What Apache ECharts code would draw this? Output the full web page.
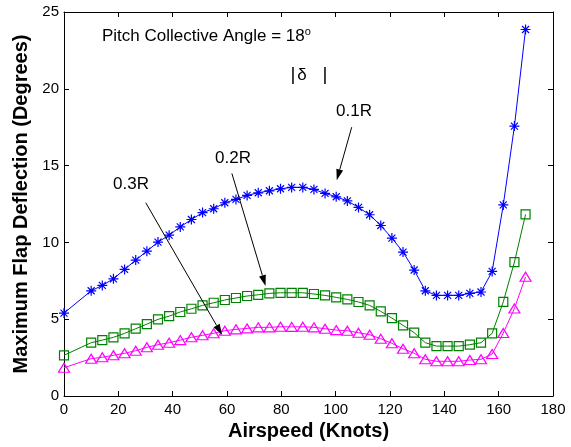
<!DOCTYPE html>
<html>
<head>
<meta charset="utf-8">
<script src="https://cdn.jsdelivr.net/npm/echarts@6/dist/echarts.min.js"></script>
<style>html,body{margin:0;padding:0;background:#fff}#c{width:571px;height:447px}</style>
</head>
<body>
<div id="c"></div>
<script>
var airspeed = [0, 10, 14.1, 18.2, 22.3, 26.4, 30.5, 34.6, 38.7, 42.8, 46.9, 51.0, 55.1, 59.2, 63.3, 67.4, 71.5, 75.6, 79.7, 83.8, 87.9, 92.0, 96.1, 100.2, 104.3, 108.4, 112.5, 116.6, 120.7, 124.8, 128.9, 133.0, 137.1, 141.2, 145.3, 149.4, 153.5, 157.6, 161.7, 165.8, 169.9];
var r01 = [5.4, 6.85, 7.2, 7.63, 8.24, 8.85, 9.43, 10.02, 10.47, 11.01, 11.49, 11.94, 12.19, 12.58, 12.80, 13.06, 13.23, 13.36, 13.49, 13.58, 13.58, 13.45, 13.19, 12.97, 12.7, 12.28, 11.8, 11.1, 10.28, 9.37, 8.2, 6.85, 6.55, 6.55, 6.55, 6.68, 6.77, 8.11, 12.44, 17.57, 23.86];
var r02 = [2.65, 3.47, 3.64, 3.82, 4.08, 4.38, 4.68, 4.99, 5.2, 5.47, 5.68, 5.9, 6.07, 6.25, 6.38, 6.51, 6.59, 6.68, 6.72, 6.72, 6.72, 6.64, 6.55, 6.42, 6.29, 6.12, 5.9, 5.51, 5.07, 4.6, 4.12, 3.47, 3.25, 3.25, 3.25, 3.34, 3.47, 4.08, 6.13, 8.72, 11.82];
var r03 = [1.84, 2.43, 2.52, 2.65, 2.78, 2.95, 3.17, 3.34, 3.47, 3.64, 3.82, 3.95, 4.08, 4.25, 4.34, 4.4, 4.47, 4.47, 4.51, 4.5, 4.51, 4.47, 4.38, 4.29, 4.25, 4.12, 3.99, 3.73, 3.43, 3.08, 2.78, 2.39, 2.26, 2.26, 2.26, 2.34, 2.39, 2.73, 4.1, 5.7, 7.76];
var xTicks = [0, 20, 40, 60, 80, 100, 120, 140, 160, 180];
var yTicks = [0, 5, 10, 15, 20, 25];
var arrowFrom = [[105.9, 17.5], [61.8, 14.49], [30.1, 12.58]];
var arrowTo = [[100.4, 14.05], [74.2, 7.16], [58.2, 3.97]];

function pairs(ys){ return airspeed.map(function(x,i){ return [x, ys[i]]; }); }

var FONT = 'Liberation Sans, Arial, sans-serif';
var chart = echarts.init(document.getElementById('c'));
var axisCommon = {
  axisLine: {show: true, onZero: false, lineStyle: {color: '#000', width: 1}},
  axisTick: {show: true, inside: true, length: 5, lineStyle: {color: '#000'}},
  splitLine: {show: false}
};
function mk(o){ return Object.assign({}, axisCommon, o); }

chart.setOption({
  animation: false,
  backgroundColor: '#fff',
  grid: {left: 64, right: 18, top: 12, bottom: 51},
  xAxis: [
    mk({type: 'value', position: 'bottom', min: xTicks[0], max: xTicks[xTicks.length-1], interval: 20,
      axisLabel: {color: '#000', fontSize: 15, fontFamily: FONT, margin: 6},
      name: 'Airspeed (Knots)', nameLocation: 'middle', nameGap: 23,
      nameTextStyle: {color: '#000', fontSize: 20, fontWeight: 'bold', fontFamily: FONT}}),
    mk({type: 'value', position: 'top', min: xTicks[0], max: xTicks[xTicks.length-1], interval: 20, axisLabel: {show: false}})
  ],
  yAxis: [
    mk({type: 'value', position: 'left', min: yTicks[0], max: yTicks[yTicks.length-1], interval: 5,
      axisLabel: {color: '#000', fontSize: 15, fontFamily: FONT, margin: 5},
      name: 'Maximum Flap Deflection (Degrees)', nameLocation: 'middle', nameGap: 30,
      nameTextStyle: {color: '#000', fontSize: 20, fontWeight: 'bold', fontFamily: FONT}}),
    mk({type: 'value', position: 'right', min: yTicks[0], max: yTicks[yTicks.length-1], interval: 5, axisLabel: {show: false}})
  ],
  series: [
    {
      type: 'line', name: '0.1R', data: pairs(r01),
      symbol: 'path://M5,0L5,10M0,5L10,5M1.5,1.5L8.5,8.5M1.5,8.5L8.5,1.5', symbolSize: 10,
      lineStyle: {color: '#0000ff', width: 1},
      itemStyle: {color: '#0000ff', borderColor: '#0000ff', borderWidth: 1.2},
      silent: true, z: 3
    },
    {
      type: 'line', name: '0.2R', data: pairs(r02),
      symbol: 'rect', symbolSize: 9,
      lineStyle: {color: '#008000', width: 1},
      itemStyle: {color: 'rgba(0,0,0,0)', borderColor: '#008000', borderWidth: 1.2},
      silent: true, z: 3
    },
    {
      type: 'line', name: '0.3R', data: pairs(r03),
      symbol: 'triangle', symbolSize: [11, 9],
      lineStyle: {color: '#ff00ff', width: 1},
      itemStyle: {color: 'rgba(0,0,0,0)', borderColor: '#ff00ff', borderWidth: 1.2},
      silent: true, z: 3
    },
    {
      type: 'custom', silent: true, z: 5,
      data: arrowFrom.map(function(f, i){ return [f[0], f[1], arrowTo[i][0], arrowTo[i][1]]; }),
      renderItem: function(params, api){
        var p0 = api.coord([api.value(0), api.value(1)]);
        var p1 = api.coord([api.value(2), api.value(3)]);
        var dx = p1[0]-p0[0], dy = p1[1]-p0[1];
        var L = Math.sqrt(dx*dx+dy*dy); var ux = dx/L, uy = dy/L;
        var hl = 11, hw = 3.5;
        var bx = p1[0]-ux*hl, by = p1[1]-uy*hl;
        return {type: 'group', children: [
          {type: 'line', shape: {x1: p0[0], y1: p0[1], x2: bx, y2: by}, style: {stroke: '#000', lineWidth: 1}},
          {type: 'polygon', shape: {points: [[p1[0], p1[1]], [bx - uy*hw, by + ux*hw], [bx + uy*hw, by - ux*hw]]}, style: {fill: '#000'}}
        ]};
      }
    }
  ],
  graphic: [
    {type: 'text', left: 102, top: 26, style: {
      text: '{a|Pitch Collective Angle = 18}{s|o}',
      rich: {a: {fontSize: 17, fontFamily: FONT, fill: '#000'}, s: {fontSize: 11, fontFamily: FONT, fill: '#000', verticalAlign: 'top', padding: [0,0,9,0]}}
    }},
    {type: 'text', x: 293, y: 75, style: {text: '|', fontSize: 19, fontFamily: FONT, fill: '#000', align: 'center', verticalAlign: 'middle'}},
    {type: 'text', x: 302, y: 75, style: {text: 'δ', fontSize: 17, fontFamily: FONT, fill: '#000', align: 'center', verticalAlign: 'middle'}},
    {type: 'text', x: 325, y: 75, style: {text: '|', fontSize: 19, fontFamily: FONT, fill: '#000', align: 'center', verticalAlign: 'middle'}},
    {type: 'text', x: 354, y: 111, style: {text: '0.1R', fontSize: 17, fontFamily: FONT, fill: '#000', align: 'center', verticalAlign: 'middle'}},
    {type: 'text', x: 233, y: 158, style: {text: '0.2R', fontSize: 17, fontFamily: FONT, fill: '#000', align: 'center', verticalAlign: 'middle'}},
    {type: 'text', x: 131, y: 184, style: {text: '0.3R', fontSize: 17, fontFamily: FONT, fill: '#000', align: 'center', verticalAlign: 'middle'}}
  ]
});
</script>
</body>
</html>
